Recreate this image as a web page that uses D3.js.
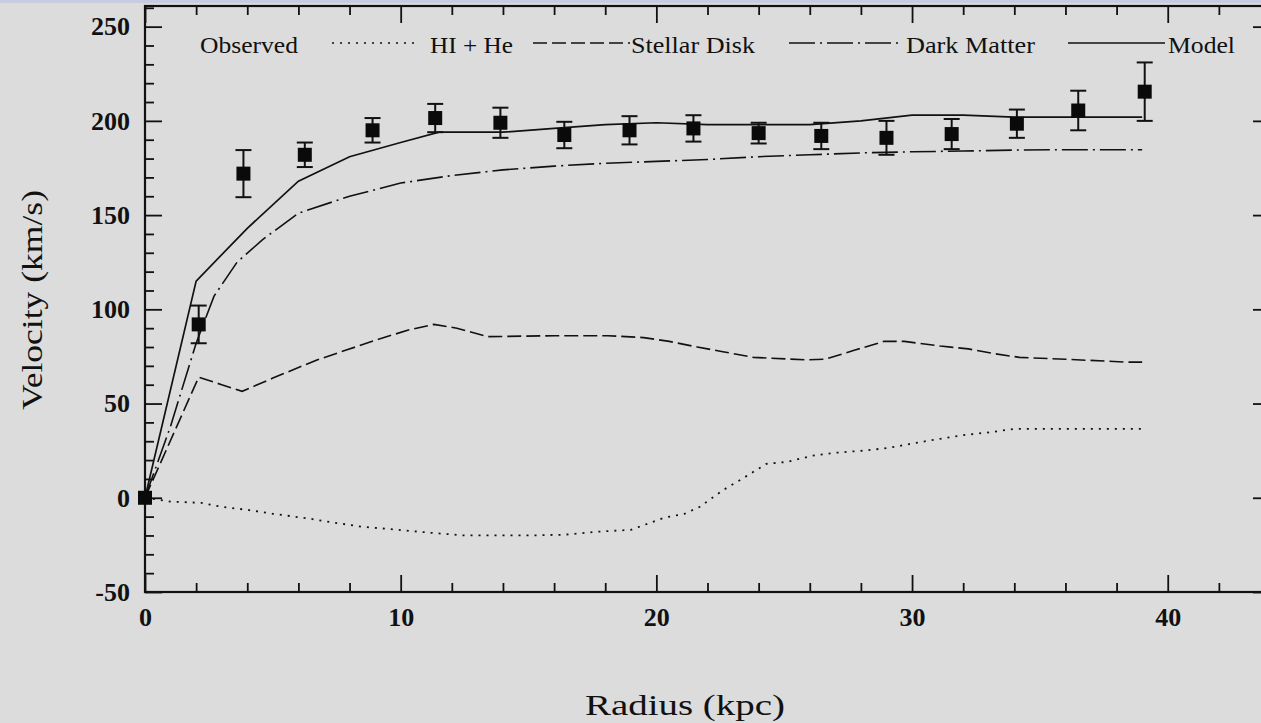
<!DOCTYPE html>
<html>
<head>
<meta charset="utf-8">
<script src="https://cdn.jsdelivr.net/npm/d3@7"></script>
<style>
  html, body { margin: 0; padding: 0; background: #dcdcdc; }
  svg { display: block; }
  text { font-family: "Liberation Serif", "Times New Roman", serif; fill: #111; }
</style>
</head>
<body>
<div class="chart-container"></div>
<script>
// observed rotation curve (kpc, km/s, error)
var obsR = [0, 2.1, 3.85, 6.25, 8.9, 11.35, 13.9, 16.4, 18.95, 21.45, 24.0, 26.45, 29.0, 31.55, 34.1, 36.5, 39.1];
var obsV = [0, 92, 172, 182, 195, 201.5, 199, 192.5, 195, 196, 193.5, 192, 191, 193, 198.5, 205.5, 215.5];
var obsErr = [0, 10, 12.5, 6.5, 6.5, 7.5, 8, 7, 7.5, 7, 5.5, 7, 9, 8, 7.5, 10.5, 15.5];

// HI + He gas
var hiR = [0, 1, 2.2, 3, 4, 5, 6.4, 7.3, 8.5, 9.9, 11.2, 12.5, 15, 16.4, 17.7, 19, 20.3, 21.1, 21.7, 22.6, 23.3, 24.3, 25.1, 26.1, 27.1, 28.1, 29.1, 30.1, 31.1, 32.1, 33.2, 34, 39];
var hiV = [0, -2, -2.7, -4.8, -6.4, -8.5, -11, -13, -15.4, -17, -18.6, -20, -20, -19.6, -18, -17, -10.6, -8.5, -4.8, 4, 9.6, 18, 19, 22.3, 24, 25, 26.5, 29, 31.3, 33.4, 35, 36.6, 36.6];

// stellar disk
var diskR = [0, 2.1, 3, 3.8, 5, 6.7, 7.9, 9.1, 10.3, 11.3, 12.2, 13.4, 16, 18.1, 19.5, 20.5, 21.6, 22.6, 23.8, 25.8, 26.6, 27.8, 28.9, 29.7, 31.1, 32.2, 33.2, 34.2, 36, 38.4, 39];
var diskV = [0, 64, 60, 56.5, 63.5, 73, 78.5, 84, 89, 92, 90, 85.5, 86, 86, 85, 83, 80, 77.5, 74.5, 73.2, 73.5, 78.5, 83, 83, 80.5, 79, 76.5, 74.5, 73.5, 72, 72];

// dark matter halo
var dmR = [0, 1, 2, 2.7, 3.6, 4.6, 6, 8, 10, 12, 14, 16, 18, 20, 22, 24, 26, 28, 30, 32, 34, 36, 38, 39];
var dmV = [0, 38, 82, 107, 125, 137, 151, 160, 167, 171, 174, 176, 177.5, 178.5, 179.5, 181, 182, 183, 183.6, 184, 184.5, 184.7, 184.7, 184.7];

// model total
var modelR = [0, 2, 4, 6, 8, 10, 11.5, 14, 16, 18, 20, 22, 24, 26, 28, 30, 32, 34, 36, 38, 39];
var modelV = [0, 115, 143, 168, 181, 188.5, 194, 194, 196, 198, 199, 198, 198, 198, 200, 203, 203, 202, 202, 202, 202];

var xTicks = [0, 10, 20, 30, 40];
var yTicks = [-50, 0, 50, 100, 150, 200, 250];

var legendItems = [
    { label: "HI + He", dash: "2,6" },
    { label: "Stellar Disk", dash: "14,5" },
    { label: "Dark Matter", dash: "26,5,2,5" },
    { label: "Model", dash: null }
];

var W = 1261, H = 723,
    plotLeft = 145, plotRight = 1270, plotTop = 6, plotBottom = 592;

var svg = d3.select(".chart-container").append("svg")
    .attr("width", W)
    .attr("height", H);

svg.append("rect").attr("width", W).attr("height", H).attr("fill", "#dcdcdc");
svg.append("rect").attr("width", W).attr("height", 3).attr("fill", "#c9cbe0");

var x = d3.scaleLinear().domain([0, 44]).range([plotLeft, plotRight]);
var y = d3.scaleLinear().domain([-50, 260]).range([plotBottom, 7.8]);

var minorX = d3.range(0, 45, 2).filter(function(d) { return d % 10 !== 0; });
var minorY = d3.range(-50, 261, 10).filter(function(d) { return d % 50 !== 0; });

// plain hyphen for negatives, like the original
var plainFormat = function(d) { return String(d); };

// frame
svg.append("rect")
    .attr("x", plotLeft).attr("y", plotTop)
    .attr("width", plotRight - plotLeft).attr("height", plotBottom - plotTop)
    .attr("fill", "none").attr("stroke", "#111").attr("stroke-width", 2.2);

function styleAxis(g) {
    g.select(".domain").remove();
    g.selectAll(".tick line").attr("stroke", "#111").attr("stroke-width", 1.8);
    g.selectAll(".tick text")
        .attr("fill", "#111")
        .style("font-family", "'Liberation Serif', serif")
        .style("font-weight", "bold")
        .style("font-size", "26px");
}

// bottom
svg.append("g").attr("transform", "translate(0," + plotBottom + ")")
    .call(d3.axisBottom(x).tickValues(xTicks).tickSize(-17).tickPadding(16).tickFormat(plainFormat))
    .call(styleAxis);
svg.append("g").attr("transform", "translate(0," + plotBottom + ")")
    .call(d3.axisBottom(x).tickValues(minorX).tickSize(-9).tickFormat(""))
    .call(styleAxis);
// top
svg.append("g").attr("transform", "translate(0," + plotTop + ")")
    .call(d3.axisTop(x).tickValues(xTicks).tickSize(-17).tickFormat(""))
    .call(styleAxis);
svg.append("g").attr("transform", "translate(0," + plotTop + ")")
    .call(d3.axisTop(x).tickValues(minorX).tickSize(-9).tickFormat(""))
    .call(styleAxis);
// left
svg.append("g").attr("transform", "translate(" + plotLeft + ",0)")
    .call(d3.axisLeft(y).tickValues(yTicks).tickSize(-17).tickPadding(15).tickFormat(plainFormat))
    .call(styleAxis);
svg.append("g").attr("transform", "translate(" + plotLeft + ",0)")
    .call(d3.axisLeft(y).tickValues(minorY).tickSize(-9).tickFormat(""))
    .call(styleAxis);
// right
svg.append("g").attr("transform", "translate(" + plotRight + ",0)")
    .call(d3.axisRight(y).tickValues(yTicks).tickSize(-17).tickFormat(""))
    .call(styleAxis);
svg.append("g").attr("transform", "translate(" + plotRight + ",0)")
    .call(d3.axisRight(y).tickValues(minorY).tickSize(-9).tickFormat(""))
    .call(styleAxis);

// curves
var line = d3.line()
    .x(function(d) { return x(d[0]); })
    .y(function(d) { return y(d[1]); });

var curves = [
    { r: hiR, v: hiV, dash: "2,6", w: 1.8 },
    { r: diskR, v: diskV, dash: "14,5", w: 1.6 },
    { r: dmR, v: dmV, dash: "26,5,2,5", w: 1.6 },
    { r: modelR, v: modelV, dash: null, w: 1.7 }
];

svg.append("g")
    .selectAll("path")
    .data(curves)
    .enter().append("path")
        .attr("d", function(c) { return line(d3.zip(c.r, c.v)); })
        .attr("fill", "none")
        .attr("stroke", "#111")
        .attr("stroke-width", function(c) { return c.w; })
        .attr("stroke-dasharray", function(c) { return c.dash; });

// observed points with error bars
var obs = d3.zip(obsR, obsV, obsErr);
var pts = svg.append("g")
    .selectAll("g")
    .data(obs)
    .enter().append("g");

pts.filter(function(d) { return d[2] > 0; })
    .append("line")
        .attr("x1", function(d) { return x(d[0]); })
        .attr("x2", function(d) { return x(d[0]); })
        .attr("y1", function(d) { return y(d[1] - d[2]); })
        .attr("y2", function(d) { return y(d[1] + d[2]); })
        .attr("stroke", "#111").attr("stroke-width", 2);
[-1, 1].forEach(function(s) {
    pts.filter(function(d) { return d[2] > 0; })
        .append("line")
            .attr("x1", function(d) { return x(d[0]) - 8; })
            .attr("x2", function(d) { return x(d[0]) + 8; })
            .attr("y1", function(d) { return y(d[1] + s * d[2]); })
            .attr("y2", function(d) { return y(d[1] + s * d[2]); })
            .attr("stroke", "#111").attr("stroke-width", 2);
});
pts.append("rect")
    .attr("x", function(d) { return x(d[0]) - 7; })
    .attr("y", function(d) { return y(d[1]) - 7; })
    .attr("width", 14).attr("height", 14)
    .attr("fill", "#0a0a0a");

// legend
var legend = svg.append("g");
legend.append("text")
    .attr("x", 200).attr("y", 53)
    .attr("textLength", 98).attr("lengthAdjust", "spacingAndGlyphs")
    .style("font-size", "24px")
    .text("Observed");

var legendPos = [
    { x1: 332, x2: 415, tx: 430, tw: 83 },
    { x1: 533, x2: 630, tx: 631, tw: 124 },
    { x1: 789, x2: 899, tx: 906, tw: 129 },
    { x1: 1068, x2: 1165, tx: 1168, tw: 67 }
];

legendItems.forEach(function(item, i) {
    var p = legendPos[i];
    legend.append("line")
        .attr("x1", p.x1).attr("x2", p.x2)
        .attr("y1", 43).attr("y2", 43)
        .attr("stroke", "#111").attr("stroke-width", 1.7)
        .attr("stroke-dasharray", item.dash);
    legend.append("text")
        .attr("x", p.tx).attr("y", 53)
        .attr("textLength", p.tw).attr("lengthAdjust", "spacingAndGlyphs")
        .style("font-size", "24px")
        .text(item.label);
});

// axis titles
svg.append("text")
    .attr("transform", "translate(42,300) rotate(-90)")
    .attr("text-anchor", "middle")
    .attr("textLength", 220).attr("lengthAdjust", "spacingAndGlyphs")
    .style("font-size", "30px")
    .text("Velocity (km/s)");

svg.append("text")
    .attr("x", 685).attr("y", 715)
    .attr("text-anchor", "middle")
    .attr("textLength", 200).attr("lengthAdjust", "spacingAndGlyphs")
    .style("font-size", "30px")
    .text("Radius  (kpc)");
</script>
</body>
</html>
